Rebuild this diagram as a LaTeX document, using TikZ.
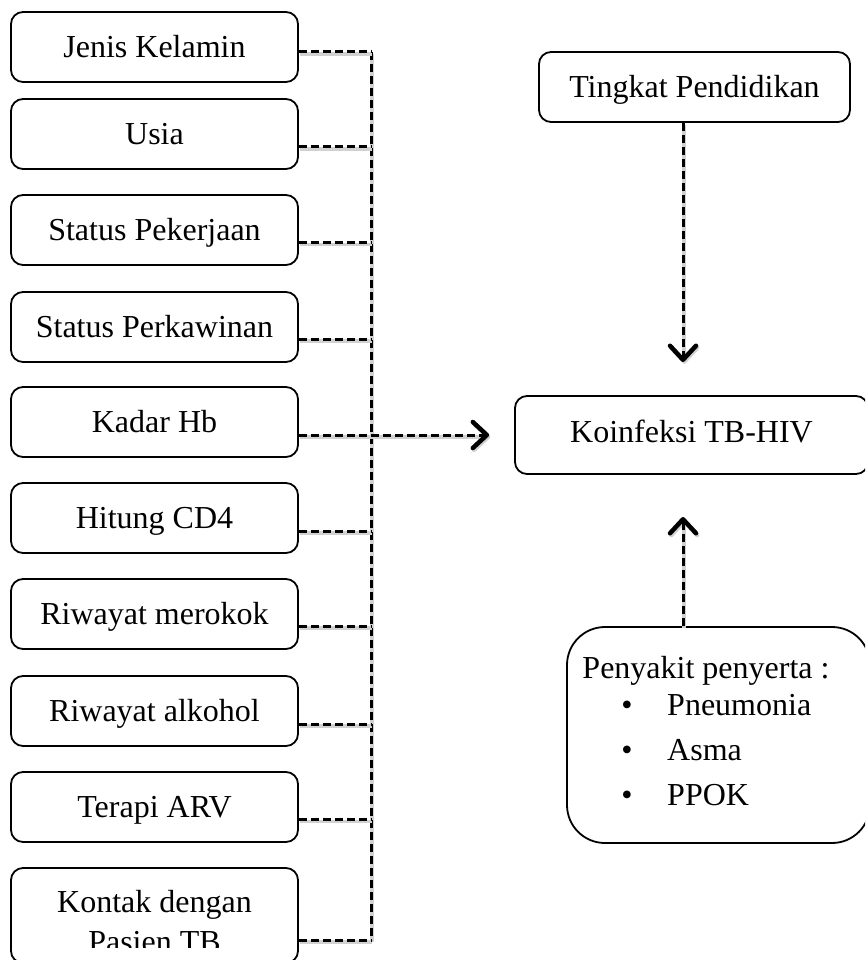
\documentclass[tikz,border=0pt]{standalone}
\usepackage{fontspec}
\setmainfont{Liberation Serif}
\usetikzlibrary{arrows.meta,calc}
\begin{document}
\begin{tikzpicture}[x=1pt,y=-1pt,
  box/.style={draw, line width=1.8pt, rounded corners=12pt, minimum width=287pt, minimum height=70pt, inner sep=0pt, text height=21pt, text depth=0pt, font=\fontsize{32}{40}\selectfont},
  txt/.style={font=\fontsize{32}{40}\selectfont, inner sep=0pt, anchor=base},
  conn/.style={line width=3pt, dash pattern=on 8pt off 4pt,
    preaction={draw=black!18, line width=3.5pt, transform canvas={shift={(1.2pt,-1.8pt)}}}},
  tip/.style={-{Straight Barb[length=14pt,width=26pt,line width=4.5pt,round]}}
]
\clip (0,0) rectangle (865,960);
% left column
\node[box] (jk)  at (154.5,47)  {Jenis Kelamin};
\node[box] (us)  at (154.5,134) {Usia};
\node[box] (spk) at (154.5,230) {Status Pekerjaan};
\node[box] (spw) at (154.5,327) {Status Perkawinan};
\node[box] (kh)  at (154.5,422) {Kadar Hb};
\node[box] (ch)  at (154.5,518) {Hitung CD4};
\node[box] (rm)  at (154.5,614) {Riwayat merokok};
\node[box] (ra)  at (154.5,711) {Riwayat alkohol};
\node[box] (arv) at (154.5,807) {Terapi ARV};
\node[box, minimum height=95pt] (kt) at (154.5,915.5) {};
\begin{scope}
  \clip (0,868) rectangle (300,947);
  \node[txt] (kt1) at (154.5,912) {Kontak dengan};
  \node[txt] (kt2) at (154.5,952) {Pasien TB};
\end{scope}
% right column
\node[box, minimum width=311pt] (tp) at (694.5,87) {Tingkat Pendidikan};
\node[box, minimum width=353pt, minimum height=78pt, text depth=6pt] (koin) at (691.5,435) {Koinfeksi TB-HIV};
\node[draw, line width=1.8pt, rounded corners=38pt, minimum width=303pt, minimum height=216pt, inner sep=0pt] (pen) at (718.5,735) {};
\node[txt] (pt) at (706,678) {Penyakit penyerta :};
\node[txt] (b1) at (627,715) {•};
\node[txt] (b2) at (627,760) {•};
\node[txt] (b3) at (627,805) {•};
\node[txt, anchor=base west] (i1) at (667,715) {Pneumonia};
\node[txt, anchor=base west] (i2) at (667,760) {Asma};
\node[txt, anchor=base west] (i3) at (667,805) {PPOK};
% connectors
\coordinate (bt) at (371,52);
\coordinate (bb) at (371,940);
\draw[conn] (bt) -- (bb);
\foreach \n/\d in {jk/5, us/13, spk/12.5, spw/12, ch/13, rm/12, ra/13, arv/12.5, kt/24.5}{
  \coordinate (c\n) at ($(\n.east)+(0,\d)$);
  \draw[conn] (c\n) -- (c\n -| bt);
}
\coordinate (ckh) at ($(kh.east)+(0,13)$);
\coordinate (ax) at ($(koin.west)+(-25,0)$);
\draw[conn,tip] (ckh) -- (ckh -| ax);
\coordinate (ta) at (683,362);
\draw[conn,tip] (tp.south -| ta) -- (ta);
\coordinate (tb) at (683,517);
\draw[conn,tip] (pen.north -| tb) -- (tb);
\end{tikzpicture}
\end{document}
